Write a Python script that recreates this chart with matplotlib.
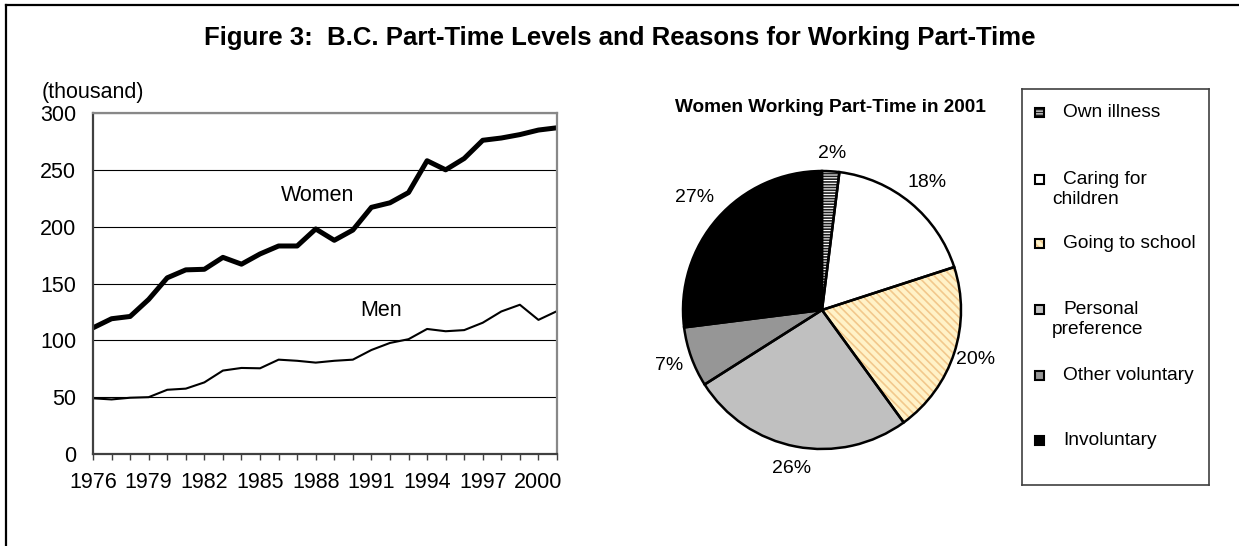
import numpy as np
import matplotlib
matplotlib.use('Agg')
import matplotlib.pyplot as plt
from matplotlib.lines import Line2D
from matplotlib.patches import Rectangle

plt.rcParams['font.family'] = ['Liberation Sans', 'DejaVu Sans']
plt.rcParams['hatch.linewidth'] = 1.2

years = list(range(1976, 2002))
women = [111, 119, 121, 136, 155, 162, 162.5, 173, 167, 176, 183, 183, 198, 188, 197,
         217, 221, 230, 258, 250, 260, 276, 278, 281, 285, 287]
men = [49, 48, 49.5, 50, 56.5, 57.5, 63, 73.4, 75.7, 75.4, 83, 82, 80.4, 82, 83,
       91.5, 97.7, 101, 110, 108, 109, 115.5, 125.4, 131.3, 118, 125.7]

reasons = ['Own illness', 'Caring for\nchildren', 'Going to school',
           'Personal\npreference', 'Other voluntary', 'Involuntary']
shares = [2, 18, 20, 26, 7, 27]
fills = ['white', 'white', '#FFF2C8', '#C0C0C0', '#969696', 'black']
hatches = ['------', None, '\\\\\\\\', None, None, None]
hatch_cols = ['#202020', 'white', '#F2C88C', '#C0C0C0', '#969696', 'black']
label_dist = [1.13, 1.19, 1.16, 1.16, 1.17, 1.22]

W, H = 1239, 546
fig = plt.figure(figsize=(W / 100, H / 100), dpi=100)

# frame around the figure
fig.add_artist(Line2D([6 / W, 6 / W], [0, 1 - 5 / H], color='black', lw=1.6))
fig.add_artist(Line2D([6 / W, 1], [1 - 5 / H, 1 - 5 / H], color='black', lw=1.6))

fig.text(620 / W, 1 - 38 / H,
         'Figure 3:  B.C. Part-Time Levels and Reasons for Working Part-Time',
         ha='center', va='center', fontsize=18.5, fontweight='bold')

# line chart
ax = fig.add_axes([93 / W, 1 - 454 / H, (557 - 93) / W, (454 - 113) / H])
ax.plot(years, women, color='black', lw=3.6, solid_joinstyle='round')
ax.plot(years, men, color='black', lw=1.5)
ax.set_xlim(1976, 2001)
ax.set_ylim(0, 300)
ax.set_yticks(range(0, 301, 50))
ax.set_xticks(years)
ax.set_xticklabels([str(y) if (y - 1976) % 3 == 0 else '' for y in years])
ax.grid(axis='y', color='black', lw=0.8)
ax.set_axisbelow(True)
ax.tick_params(axis='x', length=4, width=1, color='#404040', pad=9, labelsize=15.5)
ax.tick_params(axis='y', length=0, pad=12, labelsize=15.5)
for s in ['top', 'right']:
    ax.spines[s].set_color('#888888')
    ax.spines[s].set_linewidth(1.6)
for s in ['left', 'bottom']:
    ax.spines[s].set_color('#404040')
    ax.spines[s].set_linewidth(1.6)
ax.text(1988.1, 227, 'Women', fontsize=15.5, ha='center', va='center')
ax.text(1991.5, 126, 'Men', fontsize=15.5, ha='center', va='center')
fig.text(93 / W, 1 - 92 / H, '(thousand)', fontsize=15.5, ha='center', va='center')

# pie chart
r = 139
pax = fig.add_axes([(822 - r) / W, 1 - (310 + r) / H, 2 * r / W, 2 * r / H])
wedges, _ = pax.pie(shares, colors=fills, startangle=90, counterclock=False,
                    wedgeprops=dict(linewidth=0))
for w, h, hc in zip(wedges, hatches, hatch_cols):
    if h:
        w.set_hatch(h)
        w.set_edgecolor(hc)
outline, _, labels = pax.pie(shares, colors=['none'] * 6, startangle=90,
                             counterclock=False, autopct='%d%%', pctdistance=1.17,
                             wedgeprops=dict(linewidth=1.8, edgecolor='black'),
                             textprops=dict(fontsize=14))
for w, t, d in zip(outline, labels, label_dist):
    ang = np.deg2rad((w.theta1 + w.theta2) / 2)
    t.set_position((d * np.cos(ang), d * np.sin(ang)))
pax.set_xlim(-1, 1)
pax.set_ylim(-1, 1)
pax.set_aspect('auto')
fig.text(830 / W, 1 - 108 / H, 'Women Working Part-Time in 2001',
         fontsize=13.7, fontweight='bold', ha='center', va='center')

# legend box
lax = fig.add_axes([1022 / W, 1 - 485 / H, (1209 - 1022) / W, (485 - 89) / H])
lax.set_xlim(1022, 1209)
lax.set_ylim(485, 89)
lax.set_xticks([])
lax.set_yticks([])
for s in lax.spines.values():
    s.set_color('#404040')
    s.set_linewidth(1.2)
entry_y = [113, 180, 244, 310, 376, 441]
for name, y, fc, h, hc in zip(reasons, entry_y, fills, hatches, hatch_cols):
    if h:
        lax.add_patch(Rectangle((1035, y - 4.5), 9, 9, facecolor=fc, edgecolor=hc,
                                hatch=h, lw=0))
    lax.add_patch(Rectangle((1035, y - 4.5), 9, 9, facecolor='none' if h else fc,
                            edgecolor='black', lw=1.5))
    first, *rest = name.split('\n')
    lax.text(1063, y, first, fontsize=13.8, ha='left', va='center')
    for i, line in enumerate(rest):
        lax.text(1052, y + 20 * (i + 1), line, fontsize=13.8, ha='left', va='center')

fig.savefig('out.png', dpi=100)
plt.close(fig)
